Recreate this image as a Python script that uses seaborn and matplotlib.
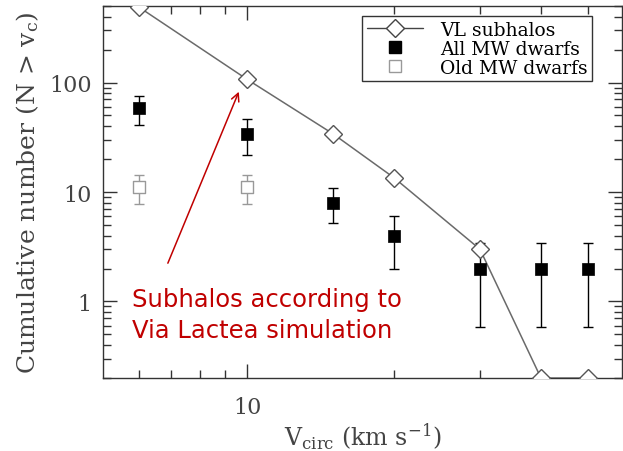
import matplotlib
matplotlib.use("Agg")
import matplotlib.pyplot as plt
from matplotlib.lines import Line2D
from matplotlib.ticker import LogLocator, FixedLocator, NullFormatter, FuncFormatter
import numpy as np
import pandas as pd
import seaborn as sns

# Circular velocity bins (km/s)
vcirc = [6, 10, 15, 20, 30, 40, 50]

# Via Lactea subhalo counts (lowest bins sit on the plot floor)
vl_subhalos = [490, 107, 34, 13.5, 3.0, 0.2, 0.2]

# All Milky Way dwarfs with error bar limits
mw_all = [58, 34, 8, 4, 2, 2, 2]
mw_all_lo = [41, 22, 5.2, 2.0, 0.59, 0.59, 0.59]
mw_all_hi = [75, 46, 10.8, 6.0, 3.41, 3.41, 3.41]

# Old Milky Way dwarfs
vcirc_old = [6, 10]
mw_old = [11, 11]
mw_old_lo = [7.7, 7.7]
mw_old_hi = [14.3, 14.3]

sns.set_style("ticks")
plt.rcParams["font.family"] = ["DejaVu Serif"]
plt.rcParams["mathtext.fontset"] = "dejavuserif"

fig = plt.figure(figsize=(6.23, 4.52), dpi=100)
ax = fig.add_axes([0.1653, 0.1615, 0.833, 0.823])

axis_col = "#333333"
text_col = "#444444"

df_vl = pd.DataFrame({"v": vcirc, "n": vl_subhalos})
sns.lineplot(data=df_vl, x="v", y="n", ax=ax, color="#6a6a6a", lw=1.1,
             marker="D", markersize=9, markerfacecolor="white",
             markeredgecolor="#555555", markeredgewidth=1.0, zorder=3)

all_err = np.array([np.array(mw_all) - np.array(mw_all_lo),
                    np.array(mw_all_hi) - np.array(mw_all)])
ax.errorbar(vcirc, mw_all, yerr=all_err, fmt="none", ecolor="black",
            elinewidth=1.0, capsize=3.5, capthick=1.0, zorder=2)
sns.scatterplot(x=vcirc, y=mw_all, ax=ax, marker="s", s=70, color="black",
                edgecolor="black", linewidth=0.5, zorder=4)

old_err = np.array([np.array(mw_old) - np.array(mw_old_lo),
                    np.array(mw_old_hi) - np.array(mw_old)])
ax.errorbar(vcirc_old, mw_old, yerr=old_err, fmt="none", ecolor="#999999",
            elinewidth=1.0, capsize=3.5, capthick=1.0, zorder=2)
sns.scatterplot(x=vcirc_old, y=mw_old, ax=ax, marker="s", s=70,
                facecolor="white", edgecolor="#999999", linewidth=1.0, zorder=4)

ax.set_xscale("log")
ax.set_yscale("log")
ax.set_xlim(5.07, 58.6)
ax.set_ylim(0.2, 500)

ax.xaxis.set_major_locator(FixedLocator([10]))
ax.xaxis.set_minor_locator(FixedLocator([6, 7, 8, 9, 20, 30, 40, 50]))
ax.xaxis.set_major_formatter(FuncFormatter(lambda v, p: "10"))
ax.xaxis.set_minor_formatter(NullFormatter())
ax.yaxis.set_major_locator(FixedLocator([1, 10, 100]))
ax.yaxis.set_minor_locator(LogLocator(base=10, subs=np.arange(2, 10)))
ax.yaxis.set_major_formatter(FuncFormatter(lambda v, p: f"{v:g}"))
ax.yaxis.set_minor_formatter(NullFormatter())

ax.tick_params(which="both", direction="in", top=True, right=True,
               color=axis_col, labelcolor=text_col, labelsize=16, width=1.0)
ax.tick_params(which="major", length=10, pad=8)
ax.tick_params(which="minor", length=6)
ax.tick_params(axis="x", which="major", pad=13)
for sp in ax.spines.values():
    sp.set_color(axis_col)
    sp.set_linewidth(1.0)

ax.set_xlabel(r"V$_{\rm circ}$ (km s$^{-1}$)", fontsize=17, color=text_col, labelpad=2)
ax.set_ylabel(r"Cumulative number (N > v$_{\rm c}$)", fontsize=18, color=text_col, labelpad=6)

handles = [
    Line2D([0], [0], color="#444444", lw=1.0, marker="D", markersize=9,
           markerfacecolor="white", markeredgecolor="#444444"),
    Line2D([0], [0], color="none", marker="s", markersize=8,
           markerfacecolor="black", markeredgecolor="black"),
    Line2D([0], [0], color="none", marker="s", markersize=8,
           markerfacecolor="white", markeredgecolor="#999999"),
]
leg = ax.legend(handles, ["VL subhalos", "All MW dwarfs", "Old MW dwarfs"],
                loc="upper left", bbox_to_anchor=(0.499, 0.973),
                frameon=True, fancybox=False, fontsize=13.5, handlelength=3.0,
                borderpad=0.25, labelspacing=0.05, handletextpad=0.9,
                borderaxespad=0)
leg.get_frame().set_edgecolor("black")
leg.get_frame().set_linewidth(1.0)
for t in leg.get_texts():
    t.set_color("black")

red = "#c00000"
ax.annotate("", xy=(9.67, 87), xytext=(6.85, 2.12),
            arrowprops=dict(arrowstyle="->", color=red, lw=1.1,
                            mutation_scale=14))
ax.text(0.056, 0.110, "Subhalos according to\nVia Lactea simulation",
        transform=ax.transAxes, ha="left", va="baseline", color=red,
        fontsize=17.5, linespacing=1.36, family=["DejaVu Sans"])

fig.savefig("out.png", dpi=100)
